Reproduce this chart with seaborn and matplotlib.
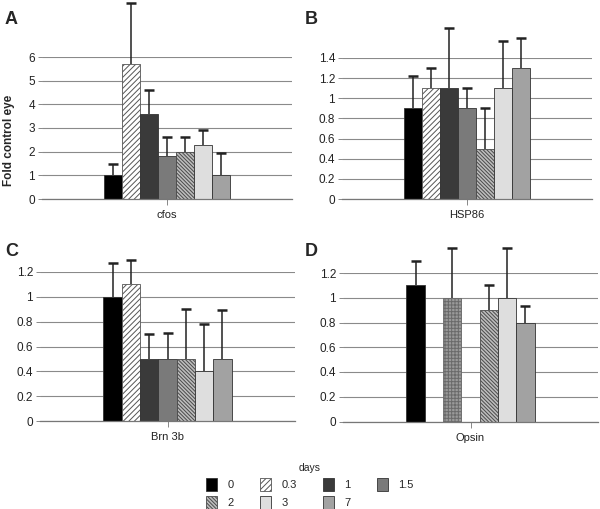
import numpy as np
import pandas as pd
import matplotlib
matplotlib.use("Agg")
import matplotlib.pyplot as plt
from matplotlib.patches import Patch
import seaborn as sns

sns.set_theme(style="white")
plt.rcParams['font.family'] = ['Liberation Sans', 'DejaVu Sans']
plt.rcParams['hatch.linewidth'] = 0.7

days = ["0", "0.3", "1", "1.5", "2", "3", "7"]
genes = ["cfos", "HSP86", "Brn 3b", "Opsin"]
panel_letters = ["A", "B", "C", "D"]

cfos_mean = [1.0, 5.7, 3.6, 1.8, 2.0, 2.3, 1.0]
cfos_err = [0.5, 2.6, 1.0, 0.8, 0.6, 0.6, 0.95]
hsp86_mean = [0.9, 1.1, 1.1, 0.9, 0.5, 1.1, 1.3]
hsp86_err = [0.32, 0.2, 0.6, 0.2, 0.4, 0.47, 0.3]
brn3b_mean = [1.0, 1.1, 0.5, 0.5, 0.5, 0.4, 0.5]
brn3b_err = [0.27, 0.2, 0.2, 0.21, 0.4, 0.38, 0.39]
opsin_mean = [1.1, np.nan, 1.0, np.nan, 0.9, 1.0, 0.8]
opsin_err = [0.2, np.nan, 0.4, np.nan, 0.2, 0.4, 0.13]

means = [cfos_mean, hsp86_mean, brn3b_mean, opsin_mean]
errs = [cfos_err, hsp86_err, brn3b_err, opsin_err]
ymax = [6, 1.4, 1.2, 1.2]
ystep = [1, 0.2, 0.2, 0.2]

# styles per day: facecolor, hatch, hatch color
styles = {
    "0": ("#000000", None, "#000000"),
    "0.3": ("#ffffff", "//////", "#555555"),
    "1": ("#3a3a3a", None, "#2a2a2a"),
    "1.5": ("#7a7a7a", None, "#555555"),
    "2": ("#bdbdbd", "\\\\\\\\\\\\\\\\\\", "#4a4a4a"),
    "3": ("#dedede", None, "#555555"),
    "7": ("#a2a2a2", None, "#707070"),
}
# In panel D the 1-day bar is drawn with a fine grid pattern
opsin_override = {"1": ("#9a9a9a", "+++++", "#6a6a6a")}

W, H = 600, 509
fig = plt.figure(figsize=(W / 100, H / 100), dpi=100)

# pixel boxes: left, right, bottom(y of 0), top(y of ymax)
boxes = [(42, 292, 199, 57), (342, 592, 199, 58), (40, 295, 421, 272), (343, 598, 421.5, 273)]

for i, (gene, m, e, box) in enumerate(zip(genes, means, errs, boxes)):
    l, r, b, t = box
    ax = fig.add_axes([l / W, 1 - b / H, (r - l) / W, (b - t) / H])
    df = pd.DataFrame({"gene": gene, "day": days, "value": m, "err": e})
    df_plot = df.dropna()
    sns.barplot(data=df_plot, x="gene", y="value", hue="day", hue_order=days,
                errorbar=None, width=0.8, legend=False, ax=ax, saturation=1)
    patches = list(ax.patches)
    for p, (_, row) in zip(patches, df_plot.iterrows()):
        st = styles[row["day"]]
        if i == 3 and row["day"] in opsin_override:
            st = opsin_override[row["day"]]
        fc, hatch, hc = st
        p.set_facecolor(fc)
        p.set_edgecolor(hc if hatch else "#333333")
        p.set_linewidth(0.6)
        p.set_zorder(2)
        if hatch:
            p.set_hatch(hatch)
        cx = p.get_x() + p.get_width() / 2
        top = row["value"] + row["err"]
        ax.plot([cx, cx], [row["value"], top], color="#222222", lw=1.1,
                clip_on=False, zorder=3, solid_capstyle="butt")
        ax.plot([cx], [top], marker="_", ms=7, mew=1.8, color="#222222",
                clip_on=False, zorder=3)
    ax.set_xlim(-0.795, 0.795)
    ax.set_ylim(0, ymax[i])
    ticks = np.round(np.arange(0, ymax[i] + 1e-9, ystep[i]), 2)
    ax.set_yticks(ticks)
    ax.set_yticklabels([f"{v:g}" for v in ticks])
    ax.yaxis.grid(True, color="#8a8a8a", linewidth=0.8)
    ax.set_axisbelow(True)
    for s in ["top", "right", "left"]:
        ax.spines[s].set_visible(False)
    ax.spines["bottom"].set_color("#777777")
    ax.spines["bottom"].set_linewidth(0.9)
    ax.tick_params(axis="y", which="major", left=True, length=3, width=0.7,
                   color="#888888", labelsize=8.5, pad=2, labelcolor="#222222")
    ax.tick_params(axis="x", which="major", bottom=True, length=4, width=0.7,
                   color="#888888", labelsize=8, pad=4, labelcolor="#222222")
    ax.set_xlabel("")
    ax.set_ylabel("")
    lx = 5 if i % 2 == 0 else 305
    ly = 20 if i < 2 else 252
    fig.text(lx / W, 1 - ly / H, panel_letters[i], fontsize=13, fontweight="bold",
             ha="left", va="center")

fig.text(9 / W, 1 - 140 / H, "Fold control eye", rotation=90, fontsize=8.5,
         fontweight="bold", ha="center", va="center")

# legend (row-wise order for 4 columns)
order = ["0", "2", "0.3", "3", "1", "7", "1.5"]
handles = []
for d in order:
    fc, hatch, hc = styles[d]
    handles.append(Patch(facecolor=fc, edgecolor=hc if hatch else "#333333",
                         hatch=hatch, linewidth=0.6, label=d))
leg = fig.legend(handles=handles, labels=order, ncol=4, loc="upper center",
                 bbox_to_anchor=(310 / W, 1 - 453 / H), frameon=False,
                 title="days", title_fontsize=7.5, fontsize=8,
                 handlelength=1.0, handleheight=1.4, handletextpad=0.9,
                 columnspacing=2.4, labelspacing=0.45)

fig.savefig("out.png", dpi=100)
